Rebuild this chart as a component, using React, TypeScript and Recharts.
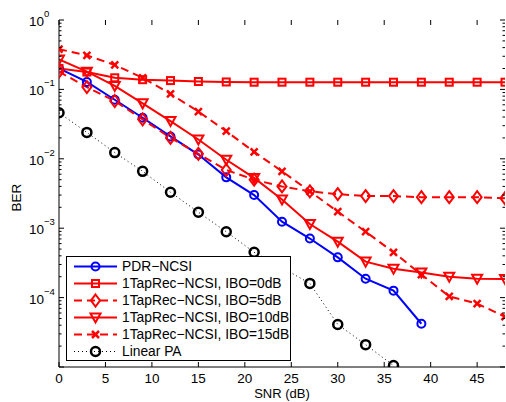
import React from 'react'
import { LineChart, Line, XAxis, YAxis, Legend } from 'recharts'

// SNR grid (dB) and BER readings per curve
const snr = [0, 3, 6, 9, 12, 15, 18, 21, 24, 27, 30, 33, 36, 39, 42, 45, 48]
const berPdr = [0.2, 0.128, 0.071, 0.039, 0.021, 0.0115, 0.0054, 0.003, 0.00124, 0.00071, 0.00038, 0.000187, 0.000126, 4.2e-5]
const berIbo0 = [0.2, 0.178, 0.147, 0.138, 0.134, 0.13, 0.128, 0.127, 0.127, 0.127, 0.127, 0.127, 0.127, 0.127, 0.127, 0.127, 0.127]
const berIbo5 = [0.18, 0.108, 0.068, 0.037, 0.02, 0.0118, 0.0069, 0.005, 0.004, 0.0034, 0.0031, 0.0029, 0.0029, 0.0028, 0.0028, 0.0028, 0.0027]
const berIbo10 = [0.27, 0.18, 0.112, 0.063, 0.035, 0.019, 0.0097, 0.0053, 0.0026, 0.00115, 0.00064, 0.00033, 0.00026, 0.00023, 0.0002, 0.000187, 0.000185]
const berIbo15 = [0.38, 0.31, 0.225, 0.147, 0.086, 0.048, 0.025, 0.0126, 0.0066, 0.0034, 0.00173, 0.00089, 0.00045, 0.000215, 0.000104, 8.2e-5, 5.3e-5]
const berLinear = [0.046, 0.024, 0.0123, 0.0066, 0.0033, 0.0017, 0.00089, 0.00045, 0.00027, 0.00016, 4.1e-5, 2.1e-5, 1.05e-5]

const xTicks = [0, 5, 10, 15, 20, 25, 30, 35, 40, 45]
const yDecades = [1e-5, 1e-4, 1e-3, 1e-2, 1e-1, 1]
// the bottom decade has a tick but no label in the original
const yLabelled = [1e-4, 1e-3, 1e-2, 1e-1, 1]

const yTicks: number[] = []
yDecades.forEach((d, i) => {
  yTicks.push(d)
  if (i < yDecades.length - 1) for (let m = 2; m <= 9; m++) yTicks.push(m * d)
})

const data = snr.map((s, i) => ({
  snr: s,
  pdr: berPdr[i],
  ibo0: berIbo0[i],
  ibo5: berIbo5[i],
  ibo10: berIbo10[i],
  ibo15: berIbo15[i],
  linear: berLinear[i],
}))

type MarkerKind = 'circle' | 'square' | 'diamond' | 'triangle' | 'cross' | 'bigcircle'

const series: { key: string; name: string; color: string; dash?: string; width: number; marker: MarkerKind }[] = [
  { key: 'pdr', name: 'PDR\u2212NCSI', color: '#0000ff', width: 2, marker: 'circle' },
  { key: 'ibo0', name: '1TapRec\u2212NCSI, IBO=0dB', color: '#ff0000', width: 2, marker: 'square' },
  { key: 'ibo5', name: '1TapRec\u2212NCSI, IBO=5dB', color: '#ff0000', dash: '8 5', width: 2, marker: 'diamond' },
  { key: 'ibo10', name: '1TapRec\u2212NCSI, IBO=10dB', color: '#ff0000', width: 2, marker: 'triangle' },
  { key: 'ibo15', name: '1TapRec\u2212NCSI, IBO=15dB', color: '#ff0000', dash: '8 5', width: 2, marker: 'cross' },
  { key: 'linear', name: 'Linear PA', color: '#000000', dash: '1 3', width: 1, marker: 'bigcircle' },
]

const W = 506
const H = 402
const PL = 59
const PR = 505
const PT = 20
const PB = 367
const FONT = '"Liberation Sans", Arial, Helvetica, sans-serif'

function Marker({ kind, cx, cy, color }: { kind: MarkerKind; cx: number; cy: number; color: string }) {
  const common = { fill: 'none', stroke: color }
  switch (kind) {
    case 'circle':
      return <circle cx={cx} cy={cy} r={4} strokeWidth={2} {...common} />
    case 'bigcircle':
      return <circle cx={cx} cy={cy} r={4.5} strokeWidth={2.5} {...common} />
    case 'square':
      return <rect x={cx - 3.5} y={cy - 3.5} width={7} height={7} strokeWidth={2} {...common} />
    case 'diamond':
      return <polygon points={`${cx},${cy - 6} ${cx + 4.5},${cy} ${cx},${cy + 6} ${cx - 4.5},${cy}`} strokeWidth={2} {...common} />
    case 'triangle':
      return <polygon points={`${cx - 5},${cy - 4} ${cx + 5},${cy - 4} ${cx},${cy + 5}`} strokeWidth={2} {...common} />
    case 'cross':
      return (
        <g stroke={color} strokeWidth={2.5}>
          <line x1={cx - 3.5} y1={cy - 3.5} x2={cx + 3.5} y2={cy + 3.5} />
          <line x1={cx - 3.5} y1={cy + 3.5} x2={cx + 3.5} y2={cy - 3.5} />
        </g>
      )
  }
  return null
}

const makeDot = (kind: MarkerKind, color: string, id: string) => (props: any) => {
  const { cx, cy, index, value } = props
  if (value == null || cx == null || cy == null || Number.isNaN(cy)) return <g key={`${id}-${index}`} />
  return (
    <g key={`${id}-${index}`}>
      <Marker kind={kind} cx={cx} cy={cy} color={color} />
    </g>
  )
}

function YTick(props: any) {
  const { y, payload } = props
  const v = payload.value as number
  const major = yDecades.includes(v)
  const len = major ? 5 : 2.5
  const exp = Math.round(Math.log10(v))
  return (
    <g>
      <line x1={PL} x2={PL + len} y1={y} y2={y} stroke="#000" />
      <line x1={PR - len} x2={PR} y1={y} y2={y} stroke="#000" />
      {yLabelled.includes(v) && (
        <text x={PL - 30} y={y + 6} fontSize={13.5} fontFamily={FONT} fill="#000">
          10
          <tspan dy={-9} fontSize={9.5}>{exp === 0 ? '0' : '\u2212' + -exp}</tspan>
        </text>
      )}
    </g>
  )
}

function XTick(props: any) {
  const { x, payload } = props
  return (
    <g>
      <line x1={x} x2={x} y1={PB} y2={PB - 5} stroke="#000" />
      <line x1={x} x2={x} y1={PT} y2={PT + 5} stroke="#000" />
      <text x={x} y={PB + 16} textAnchor="middle" fontSize={13.5} fontFamily={FONT} fill="#000">
        {payload.value}
      </text>
    </g>
  )
}

function LegendBox() {
  return (
    <div
      style={{
        boxSizing: 'border-box',
        width: 225,
        height: 105,
        border: '1px solid #000',
        background: '#fff',
        paddingTop: 1,
        fontFamily: FONT,
        fontSize: 13.8,
        color: '#000',
      }}
    >
      {series.map((s) => (
        <div key={s.key} style={{ display: 'flex', alignItems: 'center', height: 17, whiteSpace: 'nowrap' }}>
          <svg width={55} height={17} style={{ display: 'block', flex: 'none' }}>
            <line x1={7} x2={50} y1={8.5} y2={8.5} stroke={s.color} strokeWidth={s.width} strokeDasharray={s.dash} />
            <Marker kind={s.marker} cx={28.5} cy={8.5} color={s.color} />
          </svg>
          <span>{s.name}</span>
        </div>
      ))}
    </div>
  )
}

export default function App() {
  return (
    <div style={{ position: 'absolute', left: 0, top: 0, width: W, height: H, background: '#fff' }}>
      <LineChart width={W} height={H} data={data} margin={{ top: PT, right: W - PR, bottom: 0, left: 0 }}>
        <XAxis
          dataKey="snr"
          type="number"
          domain={[0, 48]}
          ticks={xTicks}
          height={H - PB}
          tick={<XTick />}
          tickLine={false}
          axisLine={{ stroke: '#000' }}
          interval={0}
          allowDataOverflow
          label={{
            content: (p: any) => (
              <text
                x={p.viewBox.x + p.viewBox.width / 2}
                y={PB + 31}
                textAnchor="middle"
                fontSize={13}
                fontFamily={FONT}
                fill="#000"
              >
                SNR (dB)
              </text>
            ),
          }}
        />
        <XAxis xAxisId="top" orientation="top" type="number" domain={[0, 48]} height={0} tick={false} tickLine={false} axisLine={{ stroke: '#000' }} />
        <YAxis
          type="number"
          scale="log"
          domain={[1e-5, 1]}
          ticks={yTicks}
          width={PL}
          tick={<YTick />}
          tickLine={false}
          axisLine={{ stroke: '#000' }}
          interval={0}
          allowDataOverflow
          label={{
            content: (p: any) => {
              const cy = p.viewBox.y + p.viewBox.height / 2 + 4
              return (
                <text
                  x={21}
                  y={cy}
                  transform={`rotate(-90 21 ${cy})`}
                  textAnchor="middle"
                  fontSize={13.5}
                  fontFamily={FONT}
                  fill="#000"
                >
                  BER
                </text>
              )
            },
          }}
        />
        <YAxis yAxisId="right" orientation="right" type="number" scale="log" domain={[1e-5, 1]} width={0} tick={false} tickLine={false} axisLine={{ stroke: '#000' }} />
        {series.map((s) => (
          <Line
            key={s.key}
            dataKey={s.key}
            name={s.name}
            type="linear"
            stroke={s.color}
            strokeWidth={s.width}
            strokeDasharray={s.dash}
            dot={makeDot(s.marker, s.color, s.key)}
            activeDot={false}
            isAnimationActive={false}
          />
        ))}
        <Legend
          layout="vertical"
          align="center"
          verticalAlign="middle"
          content={() => <LegendBox />}
          wrapperStyle={{ left: 66, top: 256, width: 225, height: 105 }}
        />
      </LineChart>
    </div>
  )
}
